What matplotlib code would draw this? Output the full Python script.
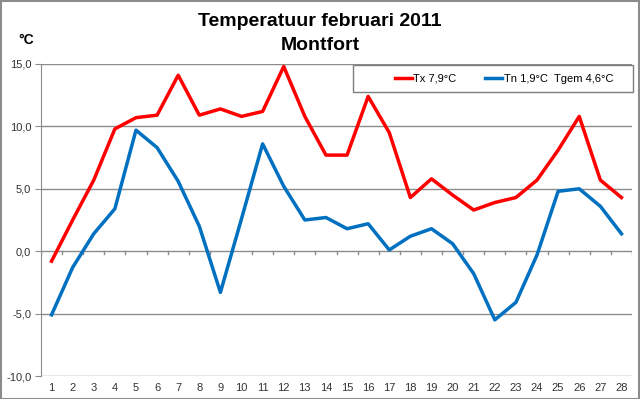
import matplotlib
import matplotlib.pyplot as plt
from matplotlib.patches import Rectangle

matplotlib.use('Agg')
plt.rcParams['font.family'] = ['Liberation Sans', 'DejaVu Sans']

days = list(range(1, 29))
tx = [-0.8, 2.5, 5.7, 9.8, 10.7, 10.9, 14.1, 10.9, 11.4, 10.8, 11.2, 14.8, 10.8, 7.7,
      7.7, 12.4, 9.5, 4.3, 5.8, 4.5, 3.3, 3.9, 4.3, 5.7, 8.1, 10.8, 5.7, 4.3]
tn = [-5.1, -1.3, 1.4, 3.4, 9.7, 8.3, 5.6, 2.0, -3.3, 2.6, 8.6, 5.2, 2.5, 2.7,
      1.8, 2.2, 0.1, 1.2, 1.8, 0.6, -1.8, -5.5, -4.1, -0.3, 4.8, 5.0, 3.6, 1.4]
y_ticks = [-10, -5, 0, 5, 10, 15]
tx_label = 'Tx 7,9°C'
tn_label = 'Tn 1,9°C  Tgem 4,6°C'

fig = plt.figure(figsize=(6.4, 3.99), dpi=100)
ax = fig.add_axes([41 / 640, 1 - 376 / 399, (632 - 41) / 640, (376 - 64) / 399])

for y in y_ticks:
    ax.axhline(y, color='#8c8c8c', lw=1, zorder=1)

# small ticks on the zero line between categories
for b in range(29):
    ax.plot([b + 0.5, b + 0.5], [0, -0.25], color='#8c8c8c', lw=1, zorder=1)

ax.plot(days, tx, color='#ff0000', lw=2.5, label=tx_label, zorder=3)
ax.plot(days, tn, color='#0070c0', lw=2.5, label=tn_label, zorder=3)

ax.set_xlim(0.5, 28.5)
ax.set_ylim(-10, 15)
ax.set_xticks(days)
ax.set_xticklabels([str(d) for d in days])
ax.set_yticks(y_ticks)
ax.yaxis.set_major_formatter(matplotlib.ticker.FuncFormatter(lambda v, p: ('%.1f' % v).replace('.', ',')))
ax.tick_params(axis='both', labelsize=8, colors='#333333', length=0, pad=5)
ax.tick_params(axis='y', length=4, direction='out', color='#8c8c8c', pad=3)
for s in ['top', 'right', 'bottom']:
    ax.spines[s].set_visible(False)
ax.spines['left'].set_color('#8c8c8c')

# legend box drawn separately, entries centred inside it
fig.patches.append(Rectangle((353 / 640, 1 - 92 / 399), 280 / 640, 27 / 399,
                             transform=fig.transFigure, facecolor='white',
                             edgecolor='#7f7f7f', lw=1, zorder=4))
leg = fig.legend(loc='center', ncol=2, fontsize=8, frameon=False,
                 handlelength=1.5, handletextpad=0.15, columnspacing=2.6,
                 bbox_to_anchor=(504 / 640, 1 - 78.5 / 399))
leg.set_zorder(5)

fig.text(0.5, 1 - 22 / 399, 'Temperatuur februari 2011', ha='center', va='center',
         fontsize=14, fontweight='bold')
fig.text(0.5, 1 - 45 / 399, 'Montfort', ha='center', va='center',
         fontsize=14, fontweight='bold')
fig.text(18 / 640, 1 - 40 / 399, '°C', ha='left', va='center', fontsize=10, fontweight='bold')

fig.patches.append(Rectangle((0.001, 0.001), 0.997, 0.997, transform=fig.transFigure,
                             fill=False, edgecolor='#8c8c8c', lw=1.5))

fig.savefig('out.png', dpi=100)
